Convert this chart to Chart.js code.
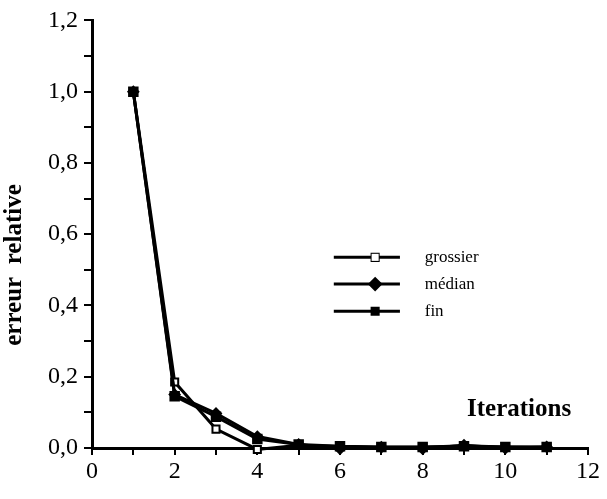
<!DOCTYPE html>
<html>
<head>
<meta charset="utf-8">
<script src="https://cdn.jsdelivr.net/npm/chart.js@4.4.1/dist/chart.umd.min.js"></script>
<style>
  html, body { margin: 0; padding: 0; background: #fff; }
  #wrap { width: 607px; height: 499px; }
</style>
</head>
<body>
<div id="wrap"><canvas id="chart-erreur"></canvas></div>
<script>
const iterations = [1, 2, 3, 4, 5, 6, 7, 8, 9, 10, 11];
const grossier = [1.0, 0.185, 0.053, -0.004, 0.008, 0.004, 0.002, 0.002, 0.006, 0.003, 0.002];
const median = [1.0, 0.15, 0.097, 0.032, 0.01, -0.002, 0.002, -0.002, 0.008, -0.001, 0.003];
const fin = [1.0, 0.145, 0.088, 0.025, 0.01, 0.005, 0.003, 0.003, 0.005, 0.003, 0.003];
const xTicks = [0, 2, 4, 6, 8, 10, 12];
const yTicks = [0, 0.2, 0.4, 0.6, 0.8, 1.0, 1.2];

const serif = '"Liberation Serif", "Times New Roman", serif';

function pts(values) {
    return values.map((v, i) => ({ x: iterations[i], y: v }));
}

// legend + axis titles drawn by hand so they sit where the original has them
const annotations = {
    id: 'annotations',
    afterDraw(chart) {
        const ctx = chart.ctx;
        const xs = chart.scales.x, ys = chart.scales.y;
        const items = [
            { label: 'grossier', style: 'rect', fill: '#fff', r: 5, y: 0.535 },
            { label: 'médian', style: 'rectRot', fill: '#000', r: 6, y: 0.46 },
            { label: 'fin', style: 'rect', fill: '#000', r: 5, y: 0.384 }
        ];
        ctx.save();
        items.forEach(it => {
            const py = ys.getPixelForValue(it.y);
            const x0 = xs.getPixelForValue(5.85), x1 = xs.getPixelForValue(7.45);
            ctx.strokeStyle = '#000';
            ctx.lineWidth = 3;
            ctx.beginPath();
            ctx.moveTo(x0, py);
            ctx.lineTo(x1, py);
            ctx.stroke();
            ctx.fillStyle = it.fill;
            ctx.lineWidth = 2;
            Chart.helpers.drawPoint(ctx, { pointStyle: it.style, radius: it.r, borderWidth: 2 },
                xs.getPixelForValue(6.85), py);
            ctx.fill();
            ctx.fillStyle = '#000';
            ctx.font = '17px ' + serif;
            ctx.textBaseline = 'middle';
            ctx.fillText(it.label, xs.getPixelForValue(8.05), py);
        });
        ctx.font = 'bold 25px ' + serif;
        ctx.textAlign = 'left';
        ctx.textBaseline = 'middle';
        ctx.fillText('Iterations', 467, 410);
        ctx.translate(15, 265);
        ctx.rotate(-Math.PI / 2);
        ctx.textAlign = 'center';
        ctx.fillText('erreur  relative', 0, 0);
        ctx.restore();
    }
};

const common = {
    borderColor: '#000',
    borderWidth: 3,
    pointRadius: 5,
    pointBorderWidth: 2,
    pointBorderColor: '#000',
    tension: 0,
    clip: false
};

new Chart(document.getElementById('chart-erreur'), {
    type: 'line',
    data: {
        datasets: [
            Object.assign({ label: 'grossier', data: pts(grossier), pointStyle: 'rect', pointBackgroundColor: '#fff', order: 3 }, common),
            Object.assign({ label: 'médian', data: pts(median), pointStyle: 'rectRot', pointBackgroundColor: '#000', order: 2 }, common, { pointRadius: 5 }),
            Object.assign({ label: 'fin', data: pts(fin), pointStyle: 'rect', pointBackgroundColor: '#000', order: 1 }, common, { pointRadius: 6 })
        ]
    },
    options: {
        responsive: true,
        maintainAspectRatio: false,
        animation: false,
        layout: { padding: { left: 0, right: 19, top: 15, bottom: 0 } },
        plugins: { legend: { display: false }, tooltip: { enabled: false } },
        scales: {
            x: {
                type: 'linear',
                min: 0,
                max: 12,
                border: { color: '#000', width: 3 },
                grid: { drawOnChartArea: false, drawTicks: true, tickLength: 7, color: '#000', lineWidth: 2 },
                ticks: {
                    stepSize: 1,
                    autoSkip: false,
                    maxRotation: 0,
                    color: '#000',
                    font: { family: serif, size: 24 },
                    padding: 2,
                    callback: v => xTicks.includes(v) ? String(v) : ''
                },
                afterFit: s => { s.height = 51; }
            },
            y: {
                min: 0,
                max: 1.2,
                border: { color: '#000', width: 3 },
                grid: { drawOnChartArea: false, drawTicks: true, tickLength: 8, color: '#000', lineWidth: 2 },
                ticks: {
                    stepSize: 0.1,
                    autoSkip: false,
                    color: '#000',
                    font: { family: serif, size: 24 },
                    padding: 6,
                    callback: v => {
                        const r = Math.round(v * 10) / 10;
                        return yTicks.some(t => Math.abs(t - r) < 1e-9) ? r.toFixed(1).replace('.', ',') : '';
                    }
                },
                afterFit: s => { s.width = 92; }
            }
        }
    },
    plugins: [annotations]
});
</script>
</body>
</html>
